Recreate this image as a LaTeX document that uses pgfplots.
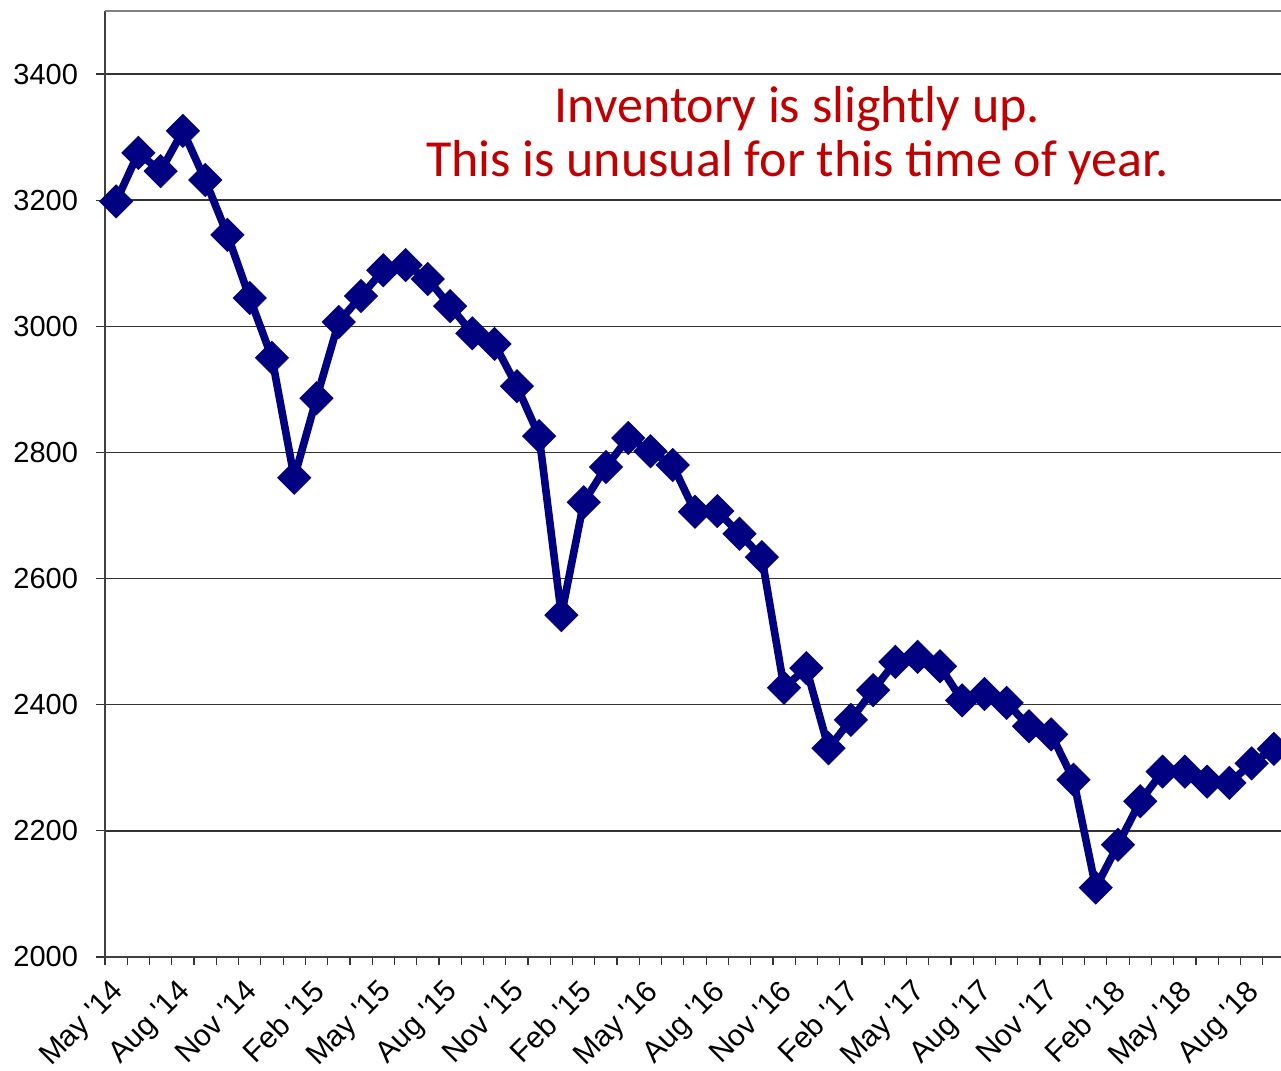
\documentclass[border=0pt]{standalone}
\usepackage{pgfplots}
\pgfplotsset{compat=1.18}
\usepackage{fontspec}
\setmainfont{Liberation Sans}
\newfontfamily\arialfont{Liberation Sans}
\newfontfamily\notefont{Carlito}
\definecolor{navyline}{RGB}{0,0,128}
\definecolor{notered}{RGB}{192,0,0}
\newcommand{\q}{\textquotesingle}
\begin{document}
\begin{tikzpicture}[x=1pt,y=1pt]
\path[use as bounding box] (-52.5,-57) rectangle (588,478.5);
\begin{axis}[
  at={(0,0)}, anchor=south west,
  scale only axis, width=590pt, height=473pt,
  xmin=-0.5, xmax=52.5,
  ymin=2000, ymax=3500,
  axis x line*=bottom, axis y line*=left,
  axis line style={black!75, line width=1pt},
  ytick={2000,2200,...,3400},
  ymajorgrids,
  grid style={black!80, line width=0.75pt},
  xtick={0,3,...,51},
  xticklabels={May \q14,Aug \q14,Nov \q14,Feb \q15,May \q15,Aug \q15,Nov \q15,Feb \q15,May \q16,Aug \q16,Nov \q16,Feb \q17,May \q17,Aug \q17,Nov \q17,Feb \q18,May \q18,Aug \q18},
  minor xtick={-0.5,0.5,...,52.5},
  every major x tick/.append style={draw=none},
  tick align=outside,
  major tick length=4.5pt,
  minor tick length=4pt,
  tick style={black!80, line width=0.6pt},
  ticklabel style={font=\arialfont\fontsize{14.5}{17}\selectfont},
  /pgf/number format/assume math mode=true,
  /pgf/number format/1000 sep={},
  y tick label style={xshift=-5.5pt},
  x tick label style={font=\arialfont\fontsize{15}{18}\selectfont, xshift=-3pt, yshift=-6pt, rotate=45, anchor=north east, inner sep=0pt},
  clip=false,
]
\draw[gray, line width=1pt] (rel axis cs:0,1) -- (rel axis cs:1,1);
\addplot[navyline, line width=3.8pt, line join=round, mark=square*, mark size=5.8pt,
  mark options={rotate=45, line width=0.5pt, fill=navyline, draw=navyline, line join=miter}]
  table {
x y
0 3198
1 3275
2 3246
3 3310
4 3232
5 3145
6 3045
7 2950
8 2760
9 2886
10 3007
11 3048
12 3089
13 3097
14 3075
15 3032
16 2989
17 2972
18 2905
19 2826
20 2542
21 2721
22 2777
23 2823
24 2802
25 2780
26 2706
27 2707
28 2671
29 2634
30 2427
31 2458
32 2331
33 2376
34 2423
35 2468
36 2476
37 2461
38 2407
39 2417
40 2403
41 2366
42 2353
43 2281
44 2110
45 2178
46 2247
47 2294
48 2294
49 2278
50 2276
51 2307
52 2330
};
\node[notered, align=center, font=\notefont\fontsize{26}{27}\selectfont] at (axis cs:30.6,3303) {Inventory is slightly up.\\This is unusual for this time of year.};
\end{axis}
\end{tikzpicture}
\end{document}
